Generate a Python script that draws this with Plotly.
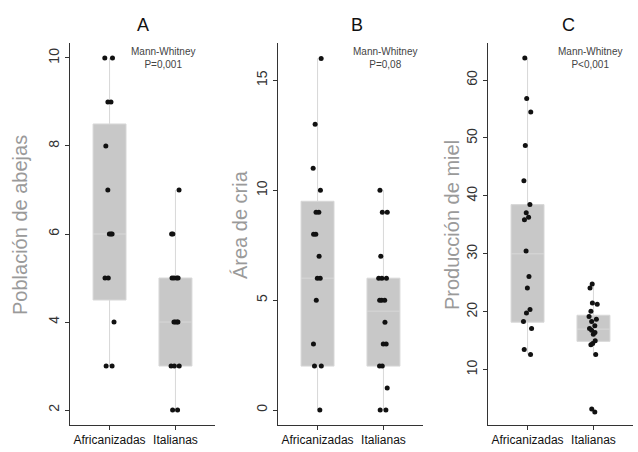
import plotly.graph_objects as go

groups = ["Africanizadas", "Italianas"]

# Panel A: Población de abejas
afr_A = [10, 10, 9, 9, 8, 7, 6, 6, 6, 5, 5, 4, 3, 3]
ita_A = [7, 6, 6, 5, 5, 5, 5, 4, 4, 4, 4, 3, 3, 3, 2, 2]
# Panel B: Área de cria
afr_B = [16, 13, 11, 10, 9, 9, 8, 8, 7, 6, 6, 5, 3, 2, 2, 0]
ita_B = [10, 9, 9, 7, 6, 6, 6, 5, 5, 5, 4, 3, 3, 2, 2, 1, 0, 0]
# Panel C: Producción de miel
afr_C = [63.8, 56.8, 54.5, 48.7, 42.6, 38.5, 37.1, 36.3, 35.9, 30.5, 26.1, 24.1,
         20.4, 19.8, 18.3, 17.1, 13.5, 12.6]
ita_C = [24.8, 24.1, 21.5, 21.3, 20.1, 19.2, 18.7, 18.3, 17.6, 17.1, 16.8, 16.4,
         16.1, 15.0, 14.5, 14.3, 12.6, 3.2, 2.7]

# Box statistics: [Africanizadas, Italianas]
q1_A, med_A, q3_A, lo_A, hi_A = [4.5, 3], [6, 4], [8.5, 5], [3, 2], [10, 7]
q1_B, med_B, q3_B, lo_B, hi_B = [2, 2], [6, 4.5], [9.5, 6], [0, 0], [16, 10]
q1_C, med_C, q3_C, lo_C, hi_C = [18.2, 14.9], [30, 17], [38.5, 19.4], [12.6, 12.6], [63.8, 24.8]

panel_titles = ["A", "B", "C"]
y_titles = ["Población de abejas", "Área de cria", "Producción de miel"]
p_texts = ["Mann-Whitney<br>P=0,001", "Mann-Whitney<br>P=0,08", "Mann-Whitney<br>P<0,001"]
y_ticks = [[2, 4, 6, 8, 10], [0, 5, 10, 15], [10, 20, 30, 40, 50, 60]]
y_ranges = [[1.66, 10.34], [-0.68, 16.7], [0.45, 66.4]]

W, H = 638, 452
FONT = "Liberation Sans, Arial, sans-serif"
px_x = [(70, 215), (278, 423), (488, 633)]
px_top, px_bot = 43, 425

fig = go.Figure()
data = [(afr_A, ita_A), (afr_B, ita_B), (afr_C, ita_C)]
stats = [(q1_A, med_A, q3_A, lo_A, hi_A), (q1_B, med_B, q3_B, lo_B, hi_B),
         (q1_C, med_C, q3_C, lo_C, hi_C)]

for i in range(3):
    xa = "x" if i == 0 else f"x{i+1}"
    ya = "y" if i == 0 else f"y{i+1}"
    q1, med, q3, lo, hi = stats[i]
    fig.add_trace(go.Box(
        x=groups, q1=q1, median=med, q3=q3, lowerfence=lo, upperfence=hi,
        fillcolor="#c8c8c8", line=dict(color="#d8d8d8", width=1),
        width=0.5, whiskerwidth=0, boxpoints=False, showlegend=False,
        xaxis=xa, yaxis=ya))
    for g, vals in zip(groups, data[i]):
        fig.add_trace(go.Box(
            x=[g] * len(vals), y=vals, boxpoints="all", jitter=0.35, pointpos=0,
            width=0.5, fillcolor="rgba(0,0,0,0)", line=dict(color="rgba(0,0,0,0)", width=0),
            marker=dict(color="#111111", size=5), showlegend=False,
            xaxis=xa, yaxis=ya))

layout = dict(width=W, height=H, margin=dict(l=0, r=0, t=0, b=0),
              paper_bgcolor="white", plot_bgcolor="white", boxmode="overlay",
              font=dict(family=FONT, color="#222"))
ann = []
for i in range(3):
    sx = "" if i == 0 else str(i + 1)
    x0, x1 = px_x[i]
    layout["xaxis" + sx] = dict(
        domain=[x0 / W, x1 / W], anchor="y" + sx, type="category",
        categoryorder="array", categoryarray=groups, range=[-0.6, 1.6],
        showline=True, linecolor="#333", linewidth=1, ticks="outside", ticklen=4,
        tickcolor="#333", showgrid=False, zeroline=False, tickangle=0,
        tickfont=dict(size=12, color="#111", family=FONT))
    layout["yaxis" + sx] = dict(
        domain=[1 - px_bot / H, 1 - px_top / H], anchor="x" + sx,
        range=y_ranges[i], tickvals=y_ticks[i], tickangle=-90,
        showline=True, linecolor="#333", linewidth=1, ticks="outside", ticklen=4,
        tickcolor="#333", showgrid=False, zeroline=False,
        tickfont=dict(size=14, color="#333", family=FONT))

title_x = [143, 357, 568]
ytitle_x = [20, 240, 452]
mw_x = [163, 385, 590]
for i in range(3):
    ann.append(dict(text=panel_titles[i], x=title_x[i] / W, y=1 - 25 / H,
                    xref="paper", yref="paper", showarrow=False,
                    xanchor="center", yanchor="middle",
                    font=dict(size=18, color="#111", family=FONT)))
    ann.append(dict(text=y_titles[i], x=ytitle_x[i] / W, y=1 - 225 / H,
                    xref="paper", yref="paper", showarrow=False, textangle=-90,
                    xanchor="center", yanchor="middle",
                    font=dict(size=20, color="#9a9a9a", family=FONT)))
    ann.append(dict(text=p_texts[i], x=mw_x[i] / W, y=1 - 58 / H,
                    xref="paper", yref="paper", showarrow=False,
                    xanchor="center", yanchor="middle",
                    font=dict(size=10, color="#444", family=FONT)))
layout["annotations"] = ann
fig.update_layout(**layout)
fig.write_html("out.html", post_script="document.body.style.margin='0';",
               config={"displayModeBar": False})
